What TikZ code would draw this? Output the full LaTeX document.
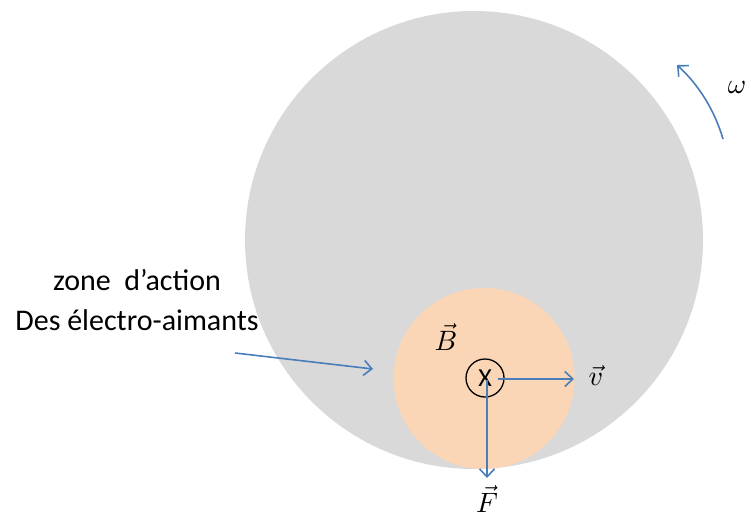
\documentclass[tikz,border=0pt]{standalone}
\usepackage{fontspec}
\setmainfont{Carlito}
\usetikzlibrary{arrows.meta}
\definecolor{discgrey}{HTML}{D9D9D9}
\definecolor{zoneorange}{HTML}{FAD6B6}
\definecolor{arrowblue}{HTML}{4A7EBB}
\newcommand{\bigmath}[1]{\scalebox{2.8}{$#1$}}
\tikzset{
  bluearrow/.style={draw=arrowblue, line width=1.6pt, -{Straight Barb[length=8pt,width=15pt,line width=1.6pt]}},
  mathlabel/.style={inner sep=0pt},
  txt/.style={font=\fontsize{30}{40}\selectfont, align=center, inner sep=0pt}
}
\begin{document}
\begin{tikzpicture}[x=1pt,y=-1pt]
\useasboundingbox (0,0) rectangle (751,519);
\node[circle, fill=discgrey, minimum size=458pt, inner sep=0pt] (disc) at (474,240) {};
\node[circle, fill=zoneorange, minimum size=181pt, inner sep=0pt] (zone) at (484,378.5) {};
\node[circle, draw=black, line width=1.3pt, minimum size=38pt, inner sep=0pt, font=\fontsize{26}{26}\selectfont] (x) at (485,378) {X};
\node[mathlabel] (B) at (446,337) {\bigmath{\vec{B}}};
\node[mathlabel] (v) at (596,375) {\bigmath{\vec{v}}};
\node[mathlabel] (F) at (487,499) {\bigmath{\vec{F}}};
\node[mathlabel] (w) at (737,87) {\bigmath{\omega}};
\node[txt, anchor=center] (label) at (137,300) {zone \ d’action\\Des électro-aimants};
\coordinate (vend) at (574,379);
\coordinate (fstart) at (487,380);
\coordinate (fend) at (487,478);
\coordinate (vstart) at (498,379);
\coordinate (lstart) at (235,353);
\coordinate (lend) at (373,369);
\coordinate (wstart) at (723,139);
\coordinate (wend) at (677,65);
\draw[bluearrow] (vstart) -- (vend);
\draw[bluearrow] (fstart) -- (fend);
\draw[bluearrow] (lstart) -- (lend);
\draw[bluearrow] (wstart) .. controls (715,112) and (700,86) .. (wend);
\end{tikzpicture}
\end{document}
